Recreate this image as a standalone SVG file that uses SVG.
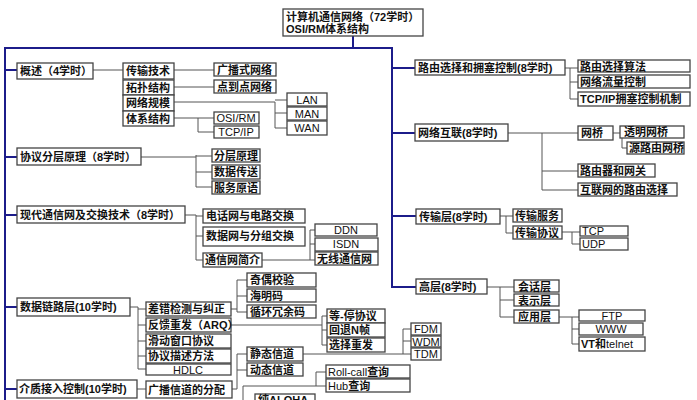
<svg xmlns="http://www.w3.org/2000/svg" width="697" height="400" viewBox="0 0 697 400">
<style>
rect.b{fill:#fff;stroke:#444;stroke-width:1.3}
text{font-family:"Liberation Sans","Noto Sans CJK SC",sans-serif;font-size:11px;font-weight:bold;fill:#111}
text.c{text-anchor:middle;font-weight:normal}
.k line,.k polyline{stroke:#555;stroke-width:1;fill:none}
.bl line{stroke:#1c1c8a;stroke-width:2}
</style>
<rect width="697" height="400" fill="#fff"/>
<g class="bl" id="trunk">
<line x1="353" y1="36" x2="353" y2="48"/>
<line x1="5" y1="48" x2="392" y2="48"/>
<line x1="5" y1="47" x2="5" y2="400"/>
<line x1="392" y1="47" x2="392" y2="288"/>
<line x1="5" y1="70" x2="17" y2="70"/>
<line x1="5" y1="157" x2="17" y2="157"/>
<line x1="5" y1="215" x2="17" y2="215"/>
<line x1="5" y1="307" x2="17" y2="307"/>
<line x1="5" y1="389" x2="17" y2="389"/>
<line x1="392" y1="68" x2="415" y2="68"/>
<line x1="392" y1="133" x2="415" y2="133"/>
<line x1="392" y1="216" x2="416" y2="216"/>
<line x1="392" y1="287" x2="416" y2="287"/>
</g>
<g class="k" id="connectors">
<line x1="93" y1="70" x2="123" y2="70"/>
<line x1="174" y1="70" x2="214" y2="70"/>
<line x1="174" y1="87" x2="214" y2="87"/>
<polyline points="174,102 275,102 275,128 287,128"/>
<line x1="275" y1="100" x2="287" y2="100"/>
<line x1="275" y1="113" x2="287" y2="113"/>
<polyline points="174,118 214,118"/>
<polyline points="198,118 198,132 214,132"/>
<polyline points="141,157 196,157"/>
<polyline points="196,155 196,187 212,187"/>
<line x1="196" y1="156" x2="212" y2="156"/>
<line x1="196" y1="172" x2="212" y2="172"/>
<line x1="185" y1="215" x2="196" y2="215"/>
<polyline points="196,215 196,260 203,260"/>
<line x1="196" y1="216" x2="203" y2="216"/>
<line x1="196" y1="236" x2="203" y2="236"/>
<line x1="262" y1="260" x2="315" y2="260"/>
<polyline points="315,230 310,230 310,260"/>
<line x1="310" y1="244" x2="315" y2="244"/>
<line x1="130" y1="307" x2="138" y2="307"/>
<polyline points="138,307 138,369 146,369"/>
<line x1="138" y1="309" x2="146" y2="309"/>
<line x1="138" y1="325" x2="146" y2="325"/>
<line x1="138" y1="341" x2="146" y2="341"/>
<line x1="138" y1="356" x2="146" y2="356"/>
<line x1="231" y1="309" x2="237" y2="309"/>
<polyline points="247,280 237,280 237,312 247,312"/>
<line x1="237" y1="296" x2="247" y2="296"/>
<line x1="231" y1="325" x2="322" y2="325"/>
<polyline points="327,316 322,316 322,345 327,345"/>
<line x1="322" y1="330" x2="327" y2="330"/>
<line x1="137" y1="389" x2="146" y2="389"/>
<polyline points="232,389 237,389 237,354 247,354"/>
<line x1="237" y1="370" x2="247" y2="370"/>
<line x1="303" y1="354" x2="411" y2="354"/>
<polyline points="411,329 403,329 403,354"/>
<line x1="403" y1="341" x2="411" y2="341"/>
<polyline points="243,400 243,386 316,386"/>
<polyline points="326,372 316,372 316,386 326,386"/>
<line x1="565" y1="68" x2="578" y2="68"/>
<polyline points="570,68 570,99 578,99"/>
<line x1="570" y1="82" x2="578" y2="82"/>
<line x1="508" y1="133" x2="578" y2="133"/>
<polyline points="542,133 542,190 578,190"/>
<line x1="542" y1="171" x2="578" y2="171"/>
<line x1="613" y1="133" x2="627" y2="133"/>
<polyline points="622,133 622,148 627,148"/>
<line x1="500" y1="216" x2="513" y2="216"/>
<polyline points="506,216 506,233 513,233"/>
<line x1="562" y1="232" x2="580" y2="232"/>
<polyline points="572,232 572,244 580,244"/>
<line x1="487" y1="287" x2="514" y2="287"/>
<polyline points="500,287 500,317 514,317"/>
<line x1="500" y1="300" x2="514" y2="300"/>
<line x1="559" y1="317" x2="579" y2="317"/>
<polyline points="572,317 572,344 579,344"/>
<line x1="572" y1="329" x2="579" y2="329"/>
</g>
<g id="root"><rect class="b" x="283" y="9" width="140" height="27"/><text x="286" y="21">计算机通信网络（72学时）</text><text x="286" y="33">OSI/RM体系结构</text></g>
<g id="n1"><rect class="b" x="17" y="63" width="76" height="16"/><text x="20" y="75">概述（4学时）</text></g>
<g id="n1a"><rect class="b" x="123" y="63" width="51" height="16"/><text x="126" y="75">传输技术</text></g>
<g id="n1b"><rect class="b" x="123" y="80" width="51" height="15"/><text x="126" y="92">拓扑结构</text></g>
<g id="n1c"><rect class="b" x="123" y="95" width="51" height="16"/><text x="126" y="107">网络规模</text></g>
<g id="n1d"><rect class="b" x="123" y="111" width="51" height="15"/><text x="126" y="123">体系结构</text></g>
<g id="n1e"><rect class="b" x="214" y="63" width="62" height="13"/><text x="217" y="74">广播式网络</text></g>
<g id="n1f"><rect class="b" x="214" y="80" width="62" height="13"/><text x="217" y="91">点到点网络</text></g>
<g id="n1g"><rect class="b" x="287" y="93" width="40" height="13"/><text class="c" x="307" y="104">LAN</text></g>
<g id="n1h"><rect class="b" x="287" y="107" width="40" height="13"/><text class="c" x="307" y="118">MAN</text></g>
<g id="n1i"><rect class="b" x="287" y="121" width="40" height="14"/><text class="c" x="307" y="132">WAN</text></g>
<g id="n1j"><rect class="b" x="214" y="112" width="45" height="12"/><text class="c" x="236" y="122">OSI/RM</text></g>
<g id="n1k"><rect class="b" x="214" y="126" width="45" height="12"/><text class="c" x="236" y="136">TCP/IP</text></g>
<g id="n2"><rect class="b" x="17" y="148" width="124" height="17"/><text x="20" y="161">协议分层原理（8学时）</text></g>
<g id="n2a"><rect class="b" x="212" y="149" width="48" height="13"/><text x="214" y="160">分层原理</text></g>
<g id="n2b"><rect class="b" x="212" y="165" width="48" height="14"/><text x="214" y="176">数据传送</text></g>
<g id="n2c"><rect class="b" x="212" y="181" width="48" height="13"/><text x="214" y="192">服务原语</text></g>
<g id="n3"><rect class="b" x="17" y="206" width="168" height="17"/><text x="20" y="219">现代通信网及交换技术（8学时）</text></g>
<g id="n3a"><rect class="b" x="203" y="209" width="102" height="14"/><text x="206" y="220">电话网与电路交换</text></g>
<g id="n3b"><rect class="b" x="203" y="227" width="102" height="19"/><text x="206" y="240">数据网与分组交换</text></g>
<g id="n3c"><rect class="b" x="203" y="253" width="59" height="14"/><text x="205" y="264">通信网简介</text></g>
<g id="n3d"><rect class="b" x="315" y="224" width="62" height="12"/><text class="c" x="346" y="234">DDN</text></g>
<g id="n3e"><rect class="b" x="315" y="238" width="63" height="13"/><text class="c" x="346" y="248">ISDN</text></g>
<g id="n3f"><rect class="b" x="315" y="252" width="63" height="13"/><text x="317" y="263">无线通信网</text></g>
<g id="n4"><rect class="b" x="17" y="298" width="113" height="18"/><text x="20" y="311">数据链路层(10学时)</text></g>
<g id="n4a"><rect class="b" x="146" y="302" width="85" height="14"/><text x="148" y="313">差错检测与纠正</text></g>
<g id="n4b"><rect class="b" x="146" y="318" width="85" height="14"/><text x="148" y="329">反馈重发（ARQ）</text></g>
<g id="n4c"><rect class="b" x="146" y="334" width="85" height="14"/><text x="148" y="345">滑动窗口协议</text></g>
<g id="n4d"><rect class="b" x="146" y="349" width="85" height="14"/><text x="148" y="360">协议描述方法</text></g>
<g id="n4e"><rect class="b" x="146" y="364" width="85" height="11"/><text class="c" x="188" y="374">HDLC</text></g>
<g id="n4f"><rect class="b" x="247" y="273" width="69" height="14"/><text x="250" y="284">奇偶校验</text></g>
<g id="n4g"><rect class="b" x="247" y="289" width="69" height="13"/><text x="250" y="300">海明码</text></g>
<g id="n4h"><rect class="b" x="247" y="305" width="69" height="13"/><text x="250" y="316">循环冗余码</text></g>
<g id="n4i"><rect class="b" x="327" y="309" width="58" height="14"/><text x="329" y="320">等-停协议</text></g>
<g id="n4j"><rect class="b" x="327" y="323" width="58" height="14"/><text x="329" y="334">回退N帧</text></g>
<g id="n4k"><rect class="b" x="327" y="338" width="58" height="14"/><text x="329" y="349">选择重发</text></g>
<g id="n5"><rect class="b" x="17" y="380" width="120" height="18"/><text x="19" y="393">介质接入控制(10学时)</text></g>
<g id="n5a"><rect class="b" x="146" y="381" width="86" height="17"/><text x="148" y="394">广播信道的分配</text></g>
<g id="n5b"><rect class="b" x="247" y="347" width="56" height="14"/><text x="250" y="358">静态信道</text></g>
<g id="n5c"><rect class="b" x="247" y="363" width="56" height="13"/><text x="250" y="374">动态信道</text></g>
<g id="n5d"><rect class="b" x="411" y="323" width="30" height="12"/><text class="c" x="426" y="333">FDM</text></g>
<g id="n5e"><rect class="b" x="411" y="336" width="30" height="11"/><text class="c" x="426" y="346">WDM</text></g>
<g id="n5f"><rect class="b" x="411" y="348" width="30" height="12"/><text class="c" x="426" y="358">TDM</text></g>
<g id="n5g"><rect class="b" x="326" y="365" width="84" height="13"/><text x="328" y="376" style="font-weight:normal">Roll-call<tspan font-weight="bold">查询</tspan></text></g>
<g id="n5h"><rect class="b" x="326" y="379" width="84" height="13"/><text x="328" y="390" style="font-weight:normal">Hub<tspan font-weight="bold">查询</tspan></text></g>
<g id="n5i"><rect class="b" x="255" y="394" width="60" height="12"/><text x="258" y="404">纯ALOHA</text></g>
<g id="r1"><rect class="b" x="415" y="60" width="150" height="15"/><text x="418" y="72">路由选择和拥塞控制(8学时)</text></g>
<g id="r1a"><rect class="b" x="578" y="60" width="112" height="12"/><text x="580" y="71">路由选择算法</text></g>
<g id="r1b"><rect class="b" x="578" y="75" width="112" height="13"/><text x="580" y="86">网络流量控制</text></g>
<g id="r1c"><rect class="b" x="578" y="92" width="112" height="14"/><text x="580" y="103">TCP/IP拥塞控制机制</text></g>
<g id="r2"><rect class="b" x="415" y="124" width="93" height="17"/><text x="418" y="137">网络互联(8学时)</text></g>
<g id="r2a"><rect class="b" x="578" y="126" width="35" height="14"/><text x="581" y="137">网桥</text></g>
<g id="r2b"><rect class="b" x="620" y="126" width="64" height="12"/><text x="624" y="136">透明网桥</text></g>
<g id="r2c"><rect class="b" x="627" y="142" width="57" height="12"/><text x="629" y="152">源路由网桥</text></g>
<g id="r2d"><rect class="b" x="578" y="164" width="77" height="13"/><text x="580" y="175">路由器和网关</text></g>
<g id="r2e"><rect class="b" x="578" y="183" width="99" height="13"/><text x="580" y="194">互联网的路由选择</text></g>
<g id="r3"><rect class="b" x="416" y="209" width="84" height="15"/><text x="419" y="221">传输层(8学时)</text></g>
<g id="r3a"><rect class="b" x="513" y="209" width="49" height="13"/><text x="515" y="220">传输服务</text></g>
<g id="r3b"><rect class="b" x="513" y="226" width="49" height="13"/><text x="515" y="237">传输协议</text></g>
<g id="r3c"><rect class="b" x="580" y="226" width="48" height="10"/><text x="582" y="235" style="font-weight:normal">TCP</text></g>
<g id="r3d"><rect class="b" x="580" y="238" width="48" height="12"/><text x="582" y="248" style="font-weight:normal">UDP</text></g>
<g id="r4"><rect class="b" x="416" y="279" width="71" height="15"/><text x="419" y="291">高层(8学时)</text></g>
<g id="r4a"><rect class="b" x="514" y="280" width="45" height="12"/><text x="518" y="291">会话层</text></g>
<g id="r4b"><rect class="b" x="514" y="294" width="45" height="12"/><text x="518" y="305">表示层</text></g>
<g id="r4c"><rect class="b" x="514" y="310" width="45" height="13"/><text x="518" y="321">应用层</text></g>
<g id="r4d"><rect class="b" x="579" y="310" width="66" height="11"/><text class="c" x="612" y="320">FTP</text></g>
<g id="r4e"><rect class="b" x="579" y="323" width="64" height="12"/><text class="c" x="611" y="333">WWW</text></g>
<g id="r4f"><rect class="b" x="579" y="337" width="66" height="14"/><text x="581" y="348">VT和<tspan font-weight="normal">telnet</tspan></text></g>
</svg>
